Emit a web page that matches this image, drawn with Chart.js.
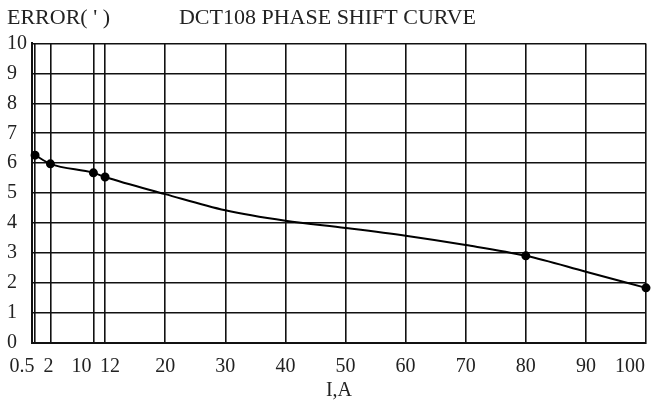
<!DOCTYPE html>
<html>
<head>
<meta charset="utf-8">
<script src="https://cdn.jsdelivr.net/npm/chart.js@4"></script>
<style>
  body { margin: 0; background: #fff; }
  #wrap { width: 652px; height: 405px; }
</style>
</head>
<body>
<div id="wrap"><canvas id="phaseChart"></canvas></div>
<script>
// readings
const currents = [0.5, 2, 10, 12, 20, 30, 40, 50, 60, 70, 80, 90, 100];
const phaseError = [6.27, 5.98, 5.68, 5.54, 4.97, 4.43, 4.08, 3.84, 3.58, 3.27, 2.91, 2.38, 1.84];
const measured = [0.5, 2, 10, 12, 80, 100];
const xTicks = [0.5, 2, 10, 12, 20, 30, 40, 50, 60, 70, 80, 90, 100];

// the printed axis is not evenly spaced below 20
const xBreaks = [[0, 0], [0.5, 0.005], [2, 0.030], [10, 0.100], [12, 0.119], [20, 0.217], [100, 1]];
// labels on the crowded ends are pushed aside
const labelNudge = [-13, -2, -12, 5, 0, 0, 0, 0, 0, 0, 0, 0, -16];

const serif = "'Liberation Serif', 'DejaVu Serif', serif";
const ink = "#222";

class BrokenScale extends Chart.LinearScale {
    static id = "broken";
    static defaults = {};

    getPixelForValue(value) {
        let f = 1;
        for (let i = 1; i < xBreaks.length; i++) {
            const [v0, f0] = xBreaks[i - 1];
            const [v1, f1] = xBreaks[i];
            if (value <= v1) {
                f = f0 + (value - v0) / (v1 - v0) * (f1 - f0);
                break;
            }
        }
        return this.getPixelForDecimal(f);
    }

    getValueForPixel(pixel) {
        const f = this.getDecimalForPixel(pixel);
        for (let i = 1; i < xBreaks.length; i++) {
            const [v0, f0] = xBreaks[i - 1];
            const [v1, f1] = xBreaks[i];
            if (f <= f1) return v0 + (f - f0) / (f1 - f0) * (v1 - v0);
        }
        return 100;
    }

    _computeLabelItems(area) {
        const items = super._computeLabelItems(area);
        items.forEach((it, i) => { it.options.translation[0] += labelNudge[i] || 0; });
        return items;
    }
}
Chart.register(BrokenScale);

const cornerLabel = {
    id: "cornerLabel",
    afterDraw(chart) {
        const ctx = chart.ctx;
        ctx.save();
        ctx.font = "22px " + serif;
        ctx.fillStyle = ink;
        ctx.textAlign = "left";
        ctx.textBaseline = "middle";
        ctx.fillText("ERROR( ' )", 7, 18);
        ctx.restore();
    }
};

new Chart(document.getElementById("phaseChart"), {
    type: "line",
    data: {
        datasets: [{
            data: currents.map((x, i) => ({ x: x, y: phaseError[i] })),
            borderColor: "#000",
            backgroundColor: "#000",
            borderWidth: 2,
            cubicInterpolationMode: "monotone",
            pointRadius: ctx => measured.includes(currents[ctx.dataIndex]) ? 3.5 : 0,
            pointHoverRadius: 4,
            clip: false,
            fill: false
        }]
    },
    options: {
        responsive: true,
        maintainAspectRatio: false,
        animation: false,
        layout: { padding: { left: 7, right: 4, bottom: 0 } },
        plugins: {
            legend: { display: false },
            tooltip: { enabled: false },
            title: {
                display: true,
                text: "DCT108 PHASE SHIFT CURVE",
                color: ink,
                font: { family: serif, size: 22, weight: "normal" },
                padding: { top: 5, bottom: 12 }
            }
        },
        scales: {
            x: {
                type: "broken",
                min: 0,
                max: 100,
                afterBuildTicks: s => { s.ticks = xTicks.map(v => ({ value: v })); },
                afterFit: s => { s.height = 62; s.paddingLeft = 0; s.paddingRight = 0; },
                ticks: {
                    autoSkip: false,
                    maxRotation: 0,
                    padding: 12,
                    color: ink,
                    font: { family: serif, size: 20 },
                    callback: v => String(v)
                },
                grid: { color: "#111", lineWidth: 1.6, drawTicks: false },
                border: { color: "#111", width: 2 },
                title: {
                    display: true,
                    text: "I,A",
                    color: ink,
                    font: { family: serif, size: 20 },
                    padding: { top: 1, bottom: 2 }
                }
            },
            y: {
                min: 0,
                max: 10,
                ticks: {
                    stepSize: 1,
                    crossAlign: "far",
                    padding: 0,
                    color: ink,
                    font: { family: serif, size: 20 }
                },
                afterFit: s => { s.width = 25; },
                grid: { color: "#111", lineWidth: 1.6, drawTicks: false },
                border: { color: "#111", width: 2 }
            }
        }
    },
    plugins: [cornerLabel]
});
</script>
</body>
</html>
